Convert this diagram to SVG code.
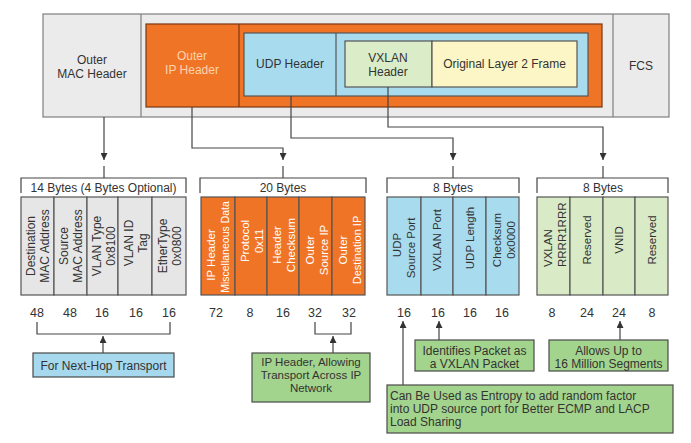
<svg xmlns="http://www.w3.org/2000/svg" width="691" height="443" viewBox="0 0 691 443">
<defs>
<marker id="ah" viewBox="0 0 8 8" refX="8" refY="4" markerWidth="7" markerHeight="7" markerUnits="userSpaceOnUse" orient="auto">
<path d="M0,0 L8,4 L0,8 z" fill="#333"/>
</marker>
<style>
text{font-family:"Liberation Sans",Arial,sans-serif;fill:#333;}
.t12{font-size:12px;text-anchor:middle;}
.t11{font-size:11.5px;text-anchor:middle;}
.num{font-size:12.5px;text-anchor:middle;fill:#333;}
.v{font-size:11.5px;text-anchor:middle;dominant-baseline:central;}
.v1{font-size:12px;text-anchor:middle;dominant-baseline:central;}
.w{fill:#fff;}
.ln{fill:none;stroke:#444;stroke-width:1.2;}
.fs{stroke:#555;stroke-width:1.2;}
.gray{fill:#e6e6e6;}
.orange{fill:#f07426;}
.blue{fill:#a8dbee;}
.lgreen{fill:#d9ebc6;}
.cg{fill:#a3d48d;stroke:#4a4a4a;stroke-width:1.2;}
.cb{fill:#a6d8ee;stroke:#4a4a4a;stroke-width:1.2;}
</style>
</defs>
<rect width="691" height="443" fill="#fff"/>

<!-- Top frame -->
<g id="frame">
<rect x="43" y="14" width="626" height="103" fill="#ebebeb" stroke="#7f7f7f" stroke-width="1.2"/>
<line x1="141" y1="14" x2="141" y2="117" stroke="#7f7f7f" stroke-width="1.2"/>
<line x1="613" y1="14" x2="613" y2="117" stroke="#7f7f7f" stroke-width="1.2"/>
</g>
<g id="outer-mac">
<text class="t12" x="92" y="63.5">Outer</text>
<text class="t12" x="92" y="77.5">MAC Header</text>
</g>
<g id="fcs">
<text class="t12" x="641" y="70">FCS</text>
</g>
<g id="outer-ip">
<rect x="146" y="24" width="456" height="83" fill="#f07426" stroke="#7a3712" stroke-width="1.2"/>
<line x1="239" y1="24" x2="239" y2="107" stroke="#7a3712" stroke-width="1.2"/>
<text class="t12" x="192" y="60" style="fill:#fcd2ad">Outer</text>
<text class="t12" x="192" y="74" style="fill:#fcd2ad">IP Header</text>
</g>
<g id="udp-header">
<rect x="244" y="33" width="344" height="63" fill="#a8dbee" stroke="#555" stroke-width="1.2"/>
<line x1="336" y1="33" x2="336" y2="96" stroke="#555" stroke-width="1.2"/>
<text class="t12" x="290" y="68">UDP Header</text>
</g>
<g id="vxlan-header">
<rect x="345" y="41" width="87" height="46" fill="#daecc8" stroke="#555" stroke-width="1.2"/>
<text class="t12" x="388" y="62">VXLAN</text>
<text class="t12" x="388" y="76">Header</text>
</g>
<g id="orig-frame">
<rect x="432" y="41" width="145" height="46" fill="#fcf6c6" stroke="#555" stroke-width="1.2"/>
<text class="t12" x="504.5" y="68">Original Layer 2 Frame</text>
</g>

<!-- Connectors -->
<g id="connectors">
<path class="ln" d="M104,117 V160" marker-end="url(#ah)"/>
<path class="ln" d="M192,107 V148 H283 V160" marker-end="url(#ah)"/>
<path class="ln" d="M291,96 V138 H453 V160" marker-end="url(#ah)"/>
<path class="ln" d="M388,87 V127 H603 V160" marker-end="url(#ah)"/>
<path class="ln" d="M104,166 V178 M283,166 V178 M453,166 V178 M603,166 V178"/>
<!-- top brackets -->
<path class="ln" d="M21,193 V178 H186 V193"/>
<path class="ln" d="M200,193 V178 H366 V193"/>
<path class="ln" d="M387,193 V178 H519 V193"/>
<path class="ln" d="M537,193 V178 H668 V193"/>
<!-- bottom brackets -->
<path class="ln" d="M37,322 V334 H170 V322"/>
<path class="ln" d="M315,322 V334 H351 V322"/>
<path class="ln" d="M103,353 V336" marker-end="url(#ah)"/>
<path class="ln" d="M333,353 V336" marker-end="url(#ah)"/>
<path class="ln" d="M403,385 V321" marker-end="url(#ah)"/>
<path class="ln" d="M439,340 V321" marker-end="url(#ah)"/>
<path class="ln" d="M620,340 V321" marker-end="url(#ah)"/>
</g>

<!-- Group 1: Outer MAC -->
<g id="mac-fields">
<text class="t12" x="103.5" y="192">14 Bytes (4 Bytes Optional)</text>
<rect class="gray fs" x="21" y="197" width="33" height="98"/>
<rect class="gray fs" x="54" y="197" width="33" height="98"/>
<rect class="gray fs" x="87" y="197" width="31" height="98"/>
<rect class="gray fs" x="118" y="197" width="34" height="98"/>
<rect class="gray fs" x="152" y="197" width="34" height="98"/>
<g transform="translate(37.5,246) rotate(-90)"><text class="v1" y="-7">Destination</text><text class="v1" y="7">MAC Address</text></g>
<g transform="translate(70.5,246) rotate(-90)"><text class="v1" y="-7">Source</text><text class="v1" y="7">MAC Address</text></g>
<g transform="translate(102.5,246) rotate(-90)"><text class="v1" y="-6">VLAN Type</text><text class="v1" y="8">0x8100</text></g>
<g transform="translate(135,243) rotate(-90)"><text class="v1" y="-6">VLAN ID</text><text class="v1" y="8">Tag</text></g>
<g transform="translate(169,246) rotate(-90)"><text class="v1" y="-6">EtherType</text><text class="v1" y="8">0x0800</text></g>
<text class="num" x="37" y="317">48</text>
<text class="num" x="70" y="317">48</text>
<text class="num" x="102" y="317">16</text>
<text class="num" x="136" y="317">16</text>
<text class="num" x="169" y="317">16</text>
</g>

<!-- Group 2: Outer IP -->
<g id="ip-fields">
<text class="t12" x="283" y="192">20 Bytes</text>
<rect class="orange fs" x="201" y="197" width="34" height="98"/>
<rect class="orange fs" x="235" y="197" width="32" height="98"/>
<rect class="orange fs" x="267" y="197" width="32" height="98"/>
<rect class="orange fs" x="299" y="197" width="33" height="98"/>
<rect class="orange fs" x="332" y="197" width="33" height="98"/>
<g transform="translate(218,247) rotate(-90)"><text class="v w" x="-8" y="-7">IP Header</text><text class="v w" y="7" style="font-size:10.5px">Miscellaneous Data</text></g>
<g transform="translate(251,241) rotate(-90)"><text class="v w" y="-6">Protocol</text><text class="v w" y="8">0x11</text></g>
<g transform="translate(283,245) rotate(-90)"><text class="v w" y="-6">Header</text><text class="v w" y="8">Checksum</text></g>
<g transform="translate(315.5,250) rotate(-90)"><text class="v w" y="-6">Outer</text><text class="v w" y="8">Source IP</text></g>
<g transform="translate(348.5,250) rotate(-90)"><text class="v w" y="-6">Outer</text><text class="v w" y="8" style="font-size:11px">Destination IP</text></g>
<text class="num" x="216" y="317">72</text>
<text class="num" x="250" y="317">8</text>
<text class="num" x="283" y="317">16</text>
<text class="num" x="315" y="317">32</text>
<text class="num" x="349" y="317">32</text>
</g>

<!-- Group 3: UDP -->
<g id="udp-fields">
<text class="t12" x="453" y="192">8 Bytes</text>
<rect class="blue fs" x="387" y="197" width="34" height="98"/>
<rect class="blue fs" x="421" y="197" width="32" height="98"/>
<rect class="blue fs" x="453" y="197" width="33" height="98"/>
<rect class="blue fs" x="486" y="197" width="33" height="98"/>
<g transform="translate(404,248) rotate(-90)"><text class="v" x="3" y="-7">UDP</text><text class="v" y="7">Source Port</text></g>
<g transform="translate(437,240) rotate(-90)"><text class="v">VXLAN Port</text></g>
<g transform="translate(469.5,238) rotate(-90)"><text class="v">UDP Length</text></g>
<g transform="translate(502.5,240) rotate(-90)"><text class="v" y="-6">Checksum</text><text class="v" y="8">0x0000</text></g>
<text class="num" x="404" y="317">16</text>
<text class="num" x="438" y="317">16</text>
<text class="num" x="470" y="317">16</text>
<text class="num" x="502" y="317">16</text>
</g>

<!-- Group 4: VXLAN -->
<g id="vxlan-fields">
<text class="t12" x="603" y="192">8 Bytes</text>
<rect class="lgreen fs" x="537" y="197" width="33" height="98"/>
<rect class="lgreen fs" x="570" y="197" width="33" height="98"/>
<rect class="lgreen fs" x="603" y="197" width="32" height="98"/>
<rect class="lgreen fs" x="635" y="197" width="33" height="98"/>
<g transform="translate(553.5,267) rotate(-90)"><text class="v" style="text-anchor:start" y="-6">VXLAN</text><text class="v" style="text-anchor:start" y="8">RRRR1RRR</text></g>
<g transform="translate(586.5,240) rotate(-90)"><text class="v">Reserved</text></g>
<g transform="translate(619,240) rotate(-90)"><text class="v">VNID</text></g>
<g transform="translate(651.5,240) rotate(-90)"><text class="v">Reserved</text></g>
<text class="num" x="552" y="317">8</text>
<text class="num" x="587" y="317">24</text>
<text class="num" x="619" y="317">24</text>
<text class="num" x="652" y="317">8</text>
</g>

<!-- Callouts -->
<g id="callout-nexthop">
<rect class="cb" x="33" y="353" width="141" height="24"/>
<text class="t12" x="103.5" y="369.5">For Next-Hop Transport</text>
</g>
<g id="callout-ip">
<rect class="cg" x="252" y="353" width="118" height="49"/>
<text class="t11" x="311" y="366">IP Header, Allowing</text>
<text class="t11" x="311" y="379">Transport Across IP</text>
<text class="t11" x="311" y="392">Network</text>
</g>
<g id="callout-vxlanport">
<rect class="cg" x="415" y="340" width="119" height="31"/>
<text class="t12" x="474.5" y="355">Identifies Packet as</text>
<text class="t12" x="474.5" y="368">a VXLAN Packet</text>
</g>
<g id="callout-vnid">
<rect class="cg" x="549" y="340" width="119" height="31"/>
<text class="t12" x="608.5" y="355">Allows Up to</text>
<text class="t12" x="608.5" y="368">16 Million Segments</text>
</g>
<g id="callout-entropy">
<rect class="cg" x="387" y="385" width="286" height="48"/>
<text x="390" y="399.5" style="font-size:12px">Can Be Used as Entropy to add random factor</text>
<text x="390" y="412.5" style="font-size:12px">into UDP source port for Better ECMP and LACP</text>
<text x="390" y="425.5" style="font-size:12px">Load Sharing</text>
</g>
</svg>
